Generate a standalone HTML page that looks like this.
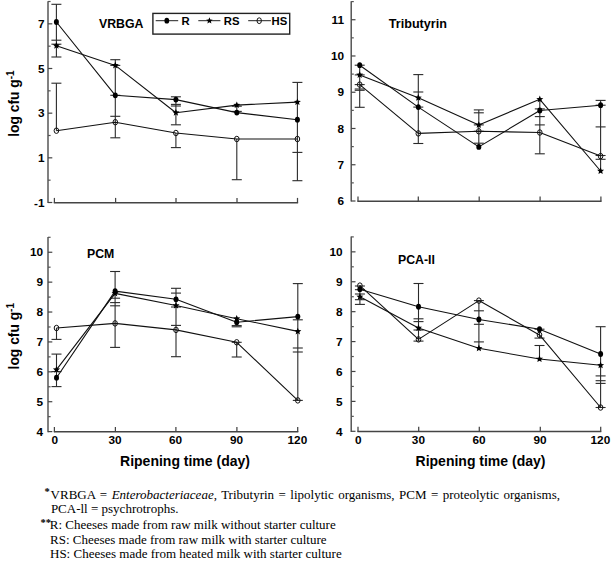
<!DOCTYPE html>
<html><head><meta charset="utf-8"><title>Figure</title>
<style>
html,body{margin:0;padding:0;background:#fff;}
body{width:615px;height:562px;overflow:hidden;}
svg{display:block;}
</style></head>
<body>
<svg width="615" height="562" viewBox="0 0 615 562">
<rect width="615" height="562" fill="#fff"/>
<line x1="48.00" y1="1.20" x2="48.00" y2="203.10" stroke="#444" stroke-width="1.35"/>
<line x1="48.00" y1="202.50" x2="52.30" y2="202.50" stroke="#444" stroke-width="1.20"/>
<line x1="48.00" y1="180.17" x2="50.60" y2="180.17" stroke="#555" stroke-width="1.20"/>
<line x1="48.00" y1="157.83" x2="52.30" y2="157.83" stroke="#444" stroke-width="1.20"/>
<line x1="48.00" y1="135.50" x2="50.60" y2="135.50" stroke="#555" stroke-width="1.20"/>
<line x1="48.00" y1="113.17" x2="52.30" y2="113.17" stroke="#444" stroke-width="1.20"/>
<line x1="48.00" y1="90.83" x2="50.60" y2="90.83" stroke="#555" stroke-width="1.20"/>
<line x1="48.00" y1="68.50" x2="52.30" y2="68.50" stroke="#444" stroke-width="1.20"/>
<line x1="48.00" y1="46.17" x2="50.60" y2="46.17" stroke="#555" stroke-width="1.20"/>
<line x1="48.00" y1="23.83" x2="52.30" y2="23.83" stroke="#444" stroke-width="1.20"/>
<line x1="48.00" y1="1.50" x2="50.60" y2="1.50" stroke="#555" stroke-width="1.20"/>
<text x="44.60" y="206.70" font-family='"Liberation Sans", sans-serif' font-size="11.80" font-weight="bold" text-anchor="end" >-1</text>
<text x="44.60" y="162.03" font-family='"Liberation Sans", sans-serif' font-size="11.80" font-weight="bold" text-anchor="end" >1</text>
<text x="44.60" y="117.37" font-family='"Liberation Sans", sans-serif' font-size="11.80" font-weight="bold" text-anchor="end" >3</text>
<text x="44.60" y="72.70" font-family='"Liberation Sans", sans-serif' font-size="11.80" font-weight="bold" text-anchor="end" >5</text>
<text x="44.60" y="28.03" font-family='"Liberation Sans", sans-serif' font-size="11.80" font-weight="bold" text-anchor="end" >7</text>
<line x1="53.80" y1="202.70" x2="298.10" y2="202.70" stroke="#444" stroke-width="1.50"/>
<line x1="54.40" y1="203.00" x2="54.40" y2="197.90" stroke="#444" stroke-width="1.25"/>
<line x1="115.60" y1="203.00" x2="115.60" y2="197.90" stroke="#444" stroke-width="1.25"/>
<line x1="176.00" y1="203.00" x2="176.00" y2="197.90" stroke="#444" stroke-width="1.25"/>
<line x1="237.00" y1="203.00" x2="237.00" y2="197.90" stroke="#444" stroke-width="1.25"/>
<line x1="297.50" y1="203.00" x2="297.50" y2="197.90" stroke="#444" stroke-width="1.25"/>
<text x="99.00" y="28.30" font-family='"Liberation Sans", sans-serif' font-size="12.30" font-weight="bold" text-anchor="start" >VRBGA</text>
<line x1="351.20" y1="1.30" x2="351.20" y2="201.60" stroke="#444" stroke-width="1.35"/>
<line x1="351.20" y1="201.00" x2="355.50" y2="201.00" stroke="#444" stroke-width="1.20"/>
<line x1="351.20" y1="182.87" x2="353.80" y2="182.87" stroke="#555" stroke-width="1.20"/>
<line x1="351.20" y1="164.75" x2="355.50" y2="164.75" stroke="#444" stroke-width="1.20"/>
<line x1="351.20" y1="146.62" x2="353.80" y2="146.62" stroke="#555" stroke-width="1.20"/>
<line x1="351.20" y1="128.49" x2="355.50" y2="128.49" stroke="#444" stroke-width="1.20"/>
<line x1="351.20" y1="110.36" x2="353.80" y2="110.36" stroke="#555" stroke-width="1.20"/>
<line x1="351.20" y1="92.24" x2="355.50" y2="92.24" stroke="#444" stroke-width="1.20"/>
<line x1="351.20" y1="74.11" x2="353.80" y2="74.11" stroke="#555" stroke-width="1.20"/>
<line x1="351.20" y1="55.98" x2="355.50" y2="55.98" stroke="#444" stroke-width="1.20"/>
<line x1="351.20" y1="37.85" x2="353.80" y2="37.85" stroke="#555" stroke-width="1.20"/>
<line x1="351.20" y1="19.73" x2="355.50" y2="19.73" stroke="#444" stroke-width="1.20"/>
<line x1="351.20" y1="1.60" x2="353.80" y2="1.60" stroke="#555" stroke-width="1.20"/>
<text x="344.00" y="205.20" font-family='"Liberation Sans", sans-serif' font-size="11.80" font-weight="bold" text-anchor="end" >6</text>
<text x="344.00" y="168.95" font-family='"Liberation Sans", sans-serif' font-size="11.80" font-weight="bold" text-anchor="end" >7</text>
<text x="344.00" y="132.69" font-family='"Liberation Sans", sans-serif' font-size="11.80" font-weight="bold" text-anchor="end" >8</text>
<text x="344.00" y="96.44" font-family='"Liberation Sans", sans-serif' font-size="11.80" font-weight="bold" text-anchor="end" >9</text>
<text x="344.00" y="60.18" font-family='"Liberation Sans", sans-serif' font-size="11.80" font-weight="bold" text-anchor="end" >10</text>
<text x="344.00" y="23.93" font-family='"Liberation Sans", sans-serif' font-size="11.80" font-weight="bold" text-anchor="end" >11</text>
<line x1="357.40" y1="201.20" x2="601.50" y2="201.20" stroke="#444" stroke-width="1.50"/>
<line x1="358.00" y1="201.50" x2="358.00" y2="196.40" stroke="#444" stroke-width="1.25"/>
<line x1="418.30" y1="201.50" x2="418.30" y2="196.40" stroke="#444" stroke-width="1.25"/>
<line x1="479.20" y1="201.50" x2="479.20" y2="196.40" stroke="#444" stroke-width="1.25"/>
<line x1="540.10" y1="201.50" x2="540.10" y2="196.40" stroke="#444" stroke-width="1.25"/>
<line x1="600.90" y1="201.50" x2="600.90" y2="196.40" stroke="#444" stroke-width="1.25"/>
<text x="388.80" y="27.80" font-family='"Liberation Sans", sans-serif' font-size="12.60" font-weight="bold" text-anchor="start" >Tributyrin</text>
<line x1="48.00" y1="237.00" x2="48.00" y2="432.20" stroke="#444" stroke-width="1.35"/>
<line x1="48.00" y1="431.60" x2="52.30" y2="431.60" stroke="#444" stroke-width="1.20"/>
<line x1="48.00" y1="416.65" x2="50.60" y2="416.65" stroke="#555" stroke-width="1.20"/>
<line x1="48.00" y1="401.71" x2="52.30" y2="401.71" stroke="#444" stroke-width="1.20"/>
<line x1="48.00" y1="386.76" x2="50.60" y2="386.76" stroke="#555" stroke-width="1.20"/>
<line x1="48.00" y1="371.82" x2="52.30" y2="371.82" stroke="#444" stroke-width="1.20"/>
<line x1="48.00" y1="356.87" x2="50.60" y2="356.87" stroke="#555" stroke-width="1.20"/>
<line x1="48.00" y1="341.92" x2="52.30" y2="341.92" stroke="#444" stroke-width="1.20"/>
<line x1="48.00" y1="326.98" x2="50.60" y2="326.98" stroke="#555" stroke-width="1.20"/>
<line x1="48.00" y1="312.03" x2="52.30" y2="312.03" stroke="#444" stroke-width="1.20"/>
<line x1="48.00" y1="297.08" x2="50.60" y2="297.08" stroke="#555" stroke-width="1.20"/>
<line x1="48.00" y1="282.14" x2="52.30" y2="282.14" stroke="#444" stroke-width="1.20"/>
<line x1="48.00" y1="267.19" x2="50.60" y2="267.19" stroke="#555" stroke-width="1.20"/>
<line x1="48.00" y1="252.25" x2="52.30" y2="252.25" stroke="#444" stroke-width="1.20"/>
<line x1="48.00" y1="237.30" x2="50.60" y2="237.30" stroke="#555" stroke-width="1.20"/>
<text x="43.10" y="435.80" font-family='"Liberation Sans", sans-serif' font-size="11.80" font-weight="bold" text-anchor="end" >4</text>
<text x="43.10" y="405.91" font-family='"Liberation Sans", sans-serif' font-size="11.80" font-weight="bold" text-anchor="end" >5</text>
<text x="43.10" y="376.02" font-family='"Liberation Sans", sans-serif' font-size="11.80" font-weight="bold" text-anchor="end" >6</text>
<text x="43.10" y="346.12" font-family='"Liberation Sans", sans-serif' font-size="11.80" font-weight="bold" text-anchor="end" >7</text>
<text x="43.10" y="316.23" font-family='"Liberation Sans", sans-serif' font-size="11.80" font-weight="bold" text-anchor="end" >8</text>
<text x="43.10" y="286.34" font-family='"Liberation Sans", sans-serif' font-size="11.80" font-weight="bold" text-anchor="end" >9</text>
<text x="43.10" y="256.45" font-family='"Liberation Sans", sans-serif' font-size="11.80" font-weight="bold" text-anchor="end" >10</text>
<line x1="53.80" y1="431.80" x2="298.30" y2="431.80" stroke="#444" stroke-width="1.50"/>
<line x1="54.40" y1="432.10" x2="54.40" y2="427.00" stroke="#444" stroke-width="1.25"/>
<text x="54.70" y="444.20" font-family='"Liberation Sans", sans-serif' font-size="11.80" font-weight="bold" text-anchor="middle" >0</text>
<line x1="115.40" y1="432.10" x2="115.40" y2="427.00" stroke="#444" stroke-width="1.25"/>
<text x="115.10" y="444.20" font-family='"Liberation Sans", sans-serif' font-size="11.80" font-weight="bold" text-anchor="middle" >30</text>
<line x1="175.90" y1="432.10" x2="175.90" y2="427.00" stroke="#444" stroke-width="1.25"/>
<text x="175.60" y="444.20" font-family='"Liberation Sans", sans-serif' font-size="11.80" font-weight="bold" text-anchor="middle" >60</text>
<line x1="236.90" y1="432.10" x2="236.90" y2="427.00" stroke="#444" stroke-width="1.25"/>
<text x="236.60" y="444.20" font-family='"Liberation Sans", sans-serif' font-size="11.80" font-weight="bold" text-anchor="middle" >90</text>
<line x1="297.70" y1="432.10" x2="297.70" y2="427.00" stroke="#444" stroke-width="1.25"/>
<text x="297.40" y="444.20" font-family='"Liberation Sans", sans-serif' font-size="11.80" font-weight="bold" text-anchor="middle" >120</text>
<text x="87.00" y="258.00" font-family='"Liberation Sans", sans-serif' font-size="12.30" font-weight="bold" text-anchor="start" >PCM</text>
<line x1="351.20" y1="236.60" x2="351.20" y2="431.90" stroke="#444" stroke-width="1.35"/>
<line x1="351.20" y1="431.30" x2="355.50" y2="431.30" stroke="#444" stroke-width="1.20"/>
<line x1="351.20" y1="416.35" x2="353.80" y2="416.35" stroke="#555" stroke-width="1.20"/>
<line x1="351.20" y1="401.39" x2="355.50" y2="401.39" stroke="#444" stroke-width="1.20"/>
<line x1="351.20" y1="386.44" x2="353.80" y2="386.44" stroke="#555" stroke-width="1.20"/>
<line x1="351.20" y1="371.48" x2="355.50" y2="371.48" stroke="#444" stroke-width="1.20"/>
<line x1="351.20" y1="356.53" x2="353.80" y2="356.53" stroke="#555" stroke-width="1.20"/>
<line x1="351.20" y1="341.58" x2="355.50" y2="341.58" stroke="#444" stroke-width="1.20"/>
<line x1="351.20" y1="326.62" x2="353.80" y2="326.62" stroke="#555" stroke-width="1.20"/>
<line x1="351.20" y1="311.67" x2="355.50" y2="311.67" stroke="#444" stroke-width="1.20"/>
<line x1="351.20" y1="296.72" x2="353.80" y2="296.72" stroke="#555" stroke-width="1.20"/>
<line x1="351.20" y1="281.76" x2="355.50" y2="281.76" stroke="#444" stroke-width="1.20"/>
<line x1="351.20" y1="266.81" x2="353.80" y2="266.81" stroke="#555" stroke-width="1.20"/>
<line x1="351.20" y1="251.85" x2="355.50" y2="251.85" stroke="#444" stroke-width="1.20"/>
<line x1="351.20" y1="236.90" x2="353.80" y2="236.90" stroke="#555" stroke-width="1.20"/>
<text x="342.50" y="435.50" font-family='"Liberation Sans", sans-serif' font-size="11.80" font-weight="bold" text-anchor="end" >4</text>
<text x="342.50" y="405.59" font-family='"Liberation Sans", sans-serif' font-size="11.80" font-weight="bold" text-anchor="end" >5</text>
<text x="342.50" y="375.68" font-family='"Liberation Sans", sans-serif' font-size="11.80" font-weight="bold" text-anchor="end" >6</text>
<text x="342.50" y="345.78" font-family='"Liberation Sans", sans-serif' font-size="11.80" font-weight="bold" text-anchor="end" >7</text>
<text x="342.50" y="315.87" font-family='"Liberation Sans", sans-serif' font-size="11.80" font-weight="bold" text-anchor="end" >8</text>
<text x="342.50" y="285.96" font-family='"Liberation Sans", sans-serif' font-size="11.80" font-weight="bold" text-anchor="end" >9</text>
<text x="342.50" y="256.05" font-family='"Liberation Sans", sans-serif' font-size="11.80" font-weight="bold" text-anchor="end" >10</text>
<line x1="357.40" y1="431.50" x2="601.30" y2="431.50" stroke="#444" stroke-width="1.50"/>
<line x1="358.00" y1="431.80" x2="358.00" y2="426.70" stroke="#444" stroke-width="1.25"/>
<text x="358.30" y="444.20" font-family='"Liberation Sans", sans-serif' font-size="11.80" font-weight="bold" text-anchor="middle" >0</text>
<line x1="418.70" y1="431.80" x2="418.70" y2="426.70" stroke="#444" stroke-width="1.25"/>
<text x="418.40" y="444.20" font-family='"Liberation Sans", sans-serif' font-size="11.80" font-weight="bold" text-anchor="middle" >30</text>
<line x1="479.30" y1="431.80" x2="479.30" y2="426.70" stroke="#444" stroke-width="1.25"/>
<text x="479.00" y="444.20" font-family='"Liberation Sans", sans-serif' font-size="11.80" font-weight="bold" text-anchor="middle" >60</text>
<line x1="540.30" y1="431.80" x2="540.30" y2="426.70" stroke="#444" stroke-width="1.25"/>
<text x="540.00" y="444.20" font-family='"Liberation Sans", sans-serif' font-size="11.80" font-weight="bold" text-anchor="middle" >90</text>
<line x1="600.70" y1="431.80" x2="600.70" y2="426.70" stroke="#444" stroke-width="1.25"/>
<text x="600.40" y="444.20" font-family='"Liberation Sans", sans-serif' font-size="11.80" font-weight="bold" text-anchor="middle" >120</text>
<text x="398.00" y="263.80" font-family='"Liberation Sans", sans-serif' font-size="12.30" font-weight="bold" text-anchor="start" >PCA-II</text>
<line x1="56.40" y1="4.30" x2="56.40" y2="57.00" stroke="#2a2a2a" stroke-width="1.10"/>
<line x1="51.40" y1="4.30" x2="61.40" y2="4.30" stroke="#2a2a2a" stroke-width="1.10"/>
<line x1="51.40" y1="40.20" x2="61.40" y2="40.20" stroke="#2a2a2a" stroke-width="1.10"/>
<line x1="51.40" y1="44.20" x2="61.40" y2="44.20" stroke="#2a2a2a" stroke-width="1.10"/>
<line x1="51.40" y1="57.00" x2="61.40" y2="57.00" stroke="#2a2a2a" stroke-width="1.10"/>
<line x1="56.40" y1="83.20" x2="56.40" y2="130.70" stroke="#2a2a2a" stroke-width="1.10"/>
<line x1="51.40" y1="83.20" x2="61.40" y2="83.20" stroke="#2a2a2a" stroke-width="1.10"/>
<line x1="115.30" y1="59.70" x2="115.30" y2="137.80" stroke="#2a2a2a" stroke-width="1.10"/>
<line x1="110.30" y1="59.70" x2="120.30" y2="59.70" stroke="#2a2a2a" stroke-width="1.10"/>
<line x1="110.30" y1="65.40" x2="120.30" y2="65.40" stroke="#2a2a2a" stroke-width="1.10"/>
<line x1="110.30" y1="95.30" x2="120.30" y2="95.30" stroke="#2a2a2a" stroke-width="1.10"/>
<line x1="110.30" y1="116.30" x2="120.30" y2="116.30" stroke="#2a2a2a" stroke-width="1.10"/>
<line x1="110.30" y1="137.80" x2="120.30" y2="137.80" stroke="#2a2a2a" stroke-width="1.10"/>
<line x1="175.90" y1="96.80" x2="175.90" y2="124.80" stroke="#2a2a2a" stroke-width="1.10"/>
<line x1="170.90" y1="96.80" x2="180.90" y2="96.80" stroke="#2a2a2a" stroke-width="1.10"/>
<line x1="170.90" y1="104.40" x2="180.90" y2="104.40" stroke="#2a2a2a" stroke-width="1.10"/>
<line x1="170.90" y1="106.00" x2="180.90" y2="106.00" stroke="#2a2a2a" stroke-width="1.10"/>
<line x1="170.90" y1="124.80" x2="180.90" y2="124.80" stroke="#2a2a2a" stroke-width="1.10"/>
<line x1="175.90" y1="133.00" x2="175.90" y2="147.60" stroke="#2a2a2a" stroke-width="1.10"/>
<line x1="170.90" y1="147.60" x2="180.90" y2="147.60" stroke="#2a2a2a" stroke-width="1.10"/>
<line x1="236.80" y1="105.10" x2="236.80" y2="112.60" stroke="#2a2a2a" stroke-width="1.10"/>
<line x1="231.80" y1="106.20" x2="241.80" y2="106.20" stroke="#2a2a2a" stroke-width="1.10"/>
<line x1="231.80" y1="111.40" x2="241.80" y2="111.40" stroke="#2a2a2a" stroke-width="1.10"/>
<line x1="236.80" y1="139.00" x2="236.80" y2="179.70" stroke="#2a2a2a" stroke-width="1.10"/>
<line x1="231.80" y1="179.70" x2="241.80" y2="179.70" stroke="#2a2a2a" stroke-width="1.10"/>
<line x1="297.40" y1="82.40" x2="297.40" y2="180.70" stroke="#2a2a2a" stroke-width="1.10"/>
<line x1="292.40" y1="82.40" x2="302.40" y2="82.40" stroke="#2a2a2a" stroke-width="1.10"/>
<line x1="292.40" y1="152.40" x2="302.40" y2="152.40" stroke="#2a2a2a" stroke-width="1.10"/>
<line x1="292.40" y1="180.70" x2="302.40" y2="180.70" stroke="#2a2a2a" stroke-width="1.10"/>
<polyline points="56.40,130.70 115.30,122.20 175.90,133.00 236.80,139.00 297.40,139.00" fill="none" stroke="#111" stroke-width="1.10" stroke-linejoin="round"/>
<polyline points="56.40,45.70 115.30,65.40 175.90,112.70 236.80,105.10 297.40,102.10" fill="none" stroke="#111" stroke-width="1.10" stroke-linejoin="round"/>
<polyline points="56.40,22.00 115.30,95.30 175.90,99.60 236.80,112.60 297.40,119.70" fill="none" stroke="#111" stroke-width="1.10" stroke-linejoin="round"/>
<ellipse cx="56.40" cy="130.70" rx="2.30" ry="2.75" fill="none" stroke="#111" stroke-width="1"/>
<ellipse cx="115.30" cy="122.20" rx="2.30" ry="2.75" fill="none" stroke="#111" stroke-width="1"/>
<ellipse cx="175.90" cy="133.00" rx="2.30" ry="2.75" fill="none" stroke="#111" stroke-width="1"/>
<ellipse cx="236.80" cy="139.00" rx="2.30" ry="2.75" fill="none" stroke="#111" stroke-width="1"/>
<ellipse cx="297.40" cy="139.00" rx="2.30" ry="2.75" fill="none" stroke="#111" stroke-width="1"/>
<polygon points="56.40,42.00 57.38,44.35 59.92,44.56 57.98,46.21 58.57,48.69 56.40,47.37 54.23,48.69 54.82,46.21 52.88,44.56 55.42,44.35" fill="#000"/>
<polygon points="115.30,61.70 116.28,64.05 118.82,64.26 116.88,65.91 117.47,68.39 115.30,67.07 113.13,68.39 113.72,65.91 111.78,64.26 114.32,64.05" fill="#000"/>
<polygon points="175.90,109.00 176.88,111.35 179.42,111.56 177.48,113.21 178.07,115.69 175.90,114.37 173.73,115.69 174.32,113.21 172.38,111.56 174.92,111.35" fill="#000"/>
<polygon points="236.80,101.40 237.78,103.75 240.32,103.96 238.38,105.61 238.97,108.09 236.80,106.77 234.63,108.09 235.22,105.61 233.28,103.96 235.82,103.75" fill="#000"/>
<polygon points="297.40,98.40 298.38,100.75 300.92,100.96 298.98,102.61 299.57,105.09 297.40,103.77 295.23,105.09 295.82,102.61 293.88,100.96 296.42,100.75" fill="#000"/>
<ellipse cx="56.40" cy="22.00" rx="2.50" ry="2.90" fill="#000"/>
<ellipse cx="115.30" cy="95.30" rx="2.50" ry="2.90" fill="#000"/>
<ellipse cx="175.90" cy="99.60" rx="2.50" ry="2.90" fill="#000"/>
<ellipse cx="236.80" cy="112.60" rx="2.50" ry="2.90" fill="#000"/>
<ellipse cx="297.40" cy="119.70" rx="2.50" ry="2.90" fill="#000"/>
<line x1="359.70" y1="65.20" x2="359.70" y2="107.30" stroke="#2a2a2a" stroke-width="1.10"/>
<line x1="354.70" y1="65.20" x2="364.70" y2="65.20" stroke="#2a2a2a" stroke-width="1.10"/>
<line x1="354.70" y1="74.90" x2="364.70" y2="74.90" stroke="#2a2a2a" stroke-width="1.10"/>
<line x1="354.70" y1="84.60" x2="364.70" y2="84.60" stroke="#2a2a2a" stroke-width="1.10"/>
<line x1="354.70" y1="89.00" x2="364.70" y2="89.00" stroke="#2a2a2a" stroke-width="1.10"/>
<line x1="354.70" y1="90.30" x2="364.70" y2="90.30" stroke="#2a2a2a" stroke-width="1.10"/>
<line x1="354.70" y1="107.30" x2="364.70" y2="107.30" stroke="#2a2a2a" stroke-width="1.10"/>
<line x1="418.30" y1="74.60" x2="418.30" y2="143.50" stroke="#2a2a2a" stroke-width="1.10"/>
<line x1="413.30" y1="74.60" x2="423.30" y2="74.60" stroke="#2a2a2a" stroke-width="1.10"/>
<line x1="413.30" y1="92.00" x2="423.30" y2="92.00" stroke="#2a2a2a" stroke-width="1.10"/>
<line x1="413.30" y1="107.10" x2="423.30" y2="107.10" stroke="#2a2a2a" stroke-width="1.10"/>
<line x1="413.30" y1="143.50" x2="423.30" y2="143.50" stroke="#2a2a2a" stroke-width="1.10"/>
<line x1="478.80" y1="109.90" x2="478.80" y2="146.90" stroke="#2a2a2a" stroke-width="1.10"/>
<line x1="473.80" y1="109.90" x2="483.80" y2="109.90" stroke="#2a2a2a" stroke-width="1.10"/>
<line x1="473.80" y1="112.80" x2="483.80" y2="112.80" stroke="#2a2a2a" stroke-width="1.10"/>
<line x1="473.80" y1="124.90" x2="483.80" y2="124.90" stroke="#2a2a2a" stroke-width="1.10"/>
<line x1="473.80" y1="131.30" x2="483.80" y2="131.30" stroke="#2a2a2a" stroke-width="1.10"/>
<line x1="473.80" y1="143.20" x2="483.80" y2="143.20" stroke="#2a2a2a" stroke-width="1.10"/>
<line x1="539.80" y1="99.30" x2="539.80" y2="153.80" stroke="#2a2a2a" stroke-width="1.10"/>
<line x1="534.80" y1="108.90" x2="544.80" y2="108.90" stroke="#2a2a2a" stroke-width="1.10"/>
<line x1="534.80" y1="116.60" x2="544.80" y2="116.60" stroke="#2a2a2a" stroke-width="1.10"/>
<line x1="534.80" y1="124.90" x2="544.80" y2="124.90" stroke="#2a2a2a" stroke-width="1.10"/>
<line x1="534.80" y1="153.80" x2="544.80" y2="153.80" stroke="#2a2a2a" stroke-width="1.10"/>
<line x1="600.60" y1="100.40" x2="600.60" y2="171.00" stroke="#2a2a2a" stroke-width="1.10"/>
<line x1="595.60" y1="100.40" x2="605.60" y2="100.40" stroke="#2a2a2a" stroke-width="1.10"/>
<line x1="595.60" y1="105.20" x2="605.60" y2="105.20" stroke="#2a2a2a" stroke-width="1.10"/>
<line x1="595.60" y1="126.90" x2="605.60" y2="126.90" stroke="#2a2a2a" stroke-width="1.10"/>
<line x1="595.60" y1="155.50" x2="605.60" y2="155.50" stroke="#2a2a2a" stroke-width="1.10"/>
<line x1="595.60" y1="159.30" x2="605.60" y2="159.30" stroke="#2a2a2a" stroke-width="1.10"/>
<polyline points="359.70,84.60 418.30,133.40 478.80,131.30 539.80,132.50 600.60,156.10" fill="none" stroke="#111" stroke-width="1.10" stroke-linejoin="round"/>
<polyline points="359.70,74.90 418.30,97.80 478.80,124.90 539.80,99.30 600.60,171.00" fill="none" stroke="#111" stroke-width="1.10" stroke-linejoin="round"/>
<polyline points="359.70,65.20 418.30,107.10 478.80,146.90 539.80,110.50 600.60,105.20" fill="none" stroke="#111" stroke-width="1.10" stroke-linejoin="round"/>
<ellipse cx="359.70" cy="84.60" rx="2.30" ry="2.75" fill="none" stroke="#111" stroke-width="1"/>
<ellipse cx="418.30" cy="133.40" rx="2.30" ry="2.75" fill="none" stroke="#111" stroke-width="1"/>
<ellipse cx="478.80" cy="131.30" rx="2.30" ry="2.75" fill="none" stroke="#111" stroke-width="1"/>
<ellipse cx="539.80" cy="132.50" rx="2.30" ry="2.75" fill="none" stroke="#111" stroke-width="1"/>
<ellipse cx="600.60" cy="156.10" rx="2.30" ry="2.75" fill="none" stroke="#111" stroke-width="1"/>
<polygon points="359.70,71.20 360.68,73.55 363.22,73.76 361.28,75.41 361.87,77.89 359.70,76.57 357.53,77.89 358.12,75.41 356.18,73.76 358.72,73.55" fill="#000"/>
<polygon points="418.30,94.10 419.28,96.45 421.82,96.66 419.88,98.31 420.47,100.79 418.30,99.47 416.13,100.79 416.72,98.31 414.78,96.66 417.32,96.45" fill="#000"/>
<polygon points="478.80,121.20 479.78,123.55 482.32,123.76 480.38,125.41 480.97,127.89 478.80,126.57 476.63,127.89 477.22,125.41 475.28,123.76 477.82,123.55" fill="#000"/>
<polygon points="539.80,95.60 540.78,97.95 543.32,98.16 541.38,99.81 541.97,102.29 539.80,100.97 537.63,102.29 538.22,99.81 536.28,98.16 538.82,97.95" fill="#000"/>
<polygon points="600.60,167.30 601.58,169.65 604.12,169.86 602.18,171.51 602.77,173.99 600.60,172.66 598.43,173.99 599.02,171.51 597.08,169.86 599.62,169.65" fill="#000"/>
<ellipse cx="359.70" cy="65.20" rx="2.50" ry="2.90" fill="#000"/>
<ellipse cx="418.30" cy="107.10" rx="2.50" ry="2.90" fill="#000"/>
<ellipse cx="478.80" cy="146.90" rx="2.50" ry="2.90" fill="#000"/>
<ellipse cx="539.80" cy="110.50" rx="2.50" ry="2.90" fill="#000"/>
<ellipse cx="600.60" cy="105.20" rx="2.50" ry="2.90" fill="#000"/>
<line x1="56.50" y1="328.00" x2="56.50" y2="339.40" stroke="#2a2a2a" stroke-width="1.10"/>
<line x1="51.50" y1="339.40" x2="61.50" y2="339.40" stroke="#2a2a2a" stroke-width="1.10"/>
<line x1="56.50" y1="354.10" x2="56.50" y2="386.60" stroke="#2a2a2a" stroke-width="1.10"/>
<line x1="51.50" y1="354.10" x2="61.50" y2="354.10" stroke="#2a2a2a" stroke-width="1.10"/>
<line x1="51.50" y1="371.60" x2="61.50" y2="371.60" stroke="#2a2a2a" stroke-width="1.10"/>
<line x1="51.50" y1="386.60" x2="61.50" y2="386.60" stroke="#2a2a2a" stroke-width="1.10"/>
<line x1="115.10" y1="271.50" x2="115.10" y2="347.40" stroke="#2a2a2a" stroke-width="1.10"/>
<line x1="110.10" y1="271.50" x2="120.10" y2="271.50" stroke="#2a2a2a" stroke-width="1.10"/>
<line x1="110.10" y1="298.20" x2="120.10" y2="298.20" stroke="#2a2a2a" stroke-width="1.10"/>
<line x1="110.10" y1="302.60" x2="120.10" y2="302.60" stroke="#2a2a2a" stroke-width="1.10"/>
<line x1="110.10" y1="305.80" x2="120.10" y2="305.80" stroke="#2a2a2a" stroke-width="1.10"/>
<line x1="110.10" y1="347.40" x2="120.10" y2="347.40" stroke="#2a2a2a" stroke-width="1.10"/>
<line x1="176.00" y1="288.30" x2="176.00" y2="356.70" stroke="#2a2a2a" stroke-width="1.10"/>
<line x1="171.00" y1="288.30" x2="181.00" y2="288.30" stroke="#2a2a2a" stroke-width="1.10"/>
<line x1="171.00" y1="293.10" x2="181.00" y2="293.10" stroke="#2a2a2a" stroke-width="1.10"/>
<line x1="171.00" y1="307.00" x2="181.00" y2="307.00" stroke="#2a2a2a" stroke-width="1.10"/>
<line x1="171.00" y1="325.40" x2="181.00" y2="325.40" stroke="#2a2a2a" stroke-width="1.10"/>
<line x1="171.00" y1="356.70" x2="181.00" y2="356.70" stroke="#2a2a2a" stroke-width="1.10"/>
<line x1="236.70" y1="318.70" x2="236.70" y2="326.20" stroke="#2a2a2a" stroke-width="1.10"/>
<line x1="231.70" y1="325.60" x2="241.70" y2="325.60" stroke="#2a2a2a" stroke-width="1.10"/>
<line x1="231.70" y1="326.80" x2="241.70" y2="326.80" stroke="#2a2a2a" stroke-width="1.10"/>
<line x1="236.70" y1="342.30" x2="236.70" y2="357.00" stroke="#2a2a2a" stroke-width="1.10"/>
<line x1="231.70" y1="342.30" x2="241.70" y2="342.30" stroke="#2a2a2a" stroke-width="1.10"/>
<line x1="231.70" y1="357.00" x2="241.70" y2="357.00" stroke="#2a2a2a" stroke-width="1.10"/>
<line x1="297.80" y1="283.60" x2="297.80" y2="400.40" stroke="#2a2a2a" stroke-width="1.10"/>
<line x1="292.80" y1="283.60" x2="302.80" y2="283.60" stroke="#2a2a2a" stroke-width="1.10"/>
<line x1="292.80" y1="319.80" x2="302.80" y2="319.80" stroke="#2a2a2a" stroke-width="1.10"/>
<line x1="292.80" y1="348.00" x2="302.80" y2="348.00" stroke="#2a2a2a" stroke-width="1.10"/>
<line x1="292.80" y1="352.00" x2="302.80" y2="352.00" stroke="#2a2a2a" stroke-width="1.10"/>
<line x1="292.80" y1="400.40" x2="302.80" y2="400.40" stroke="#2a2a2a" stroke-width="1.10"/>
<polyline points="56.50,328.00 115.10,323.40 176.00,329.90 236.70,342.30 297.80,400.40" fill="none" stroke="#111" stroke-width="1.10" stroke-linejoin="round"/>
<polyline points="56.50,369.70 115.10,293.40 176.00,305.50 236.70,318.70 297.80,331.40" fill="none" stroke="#111" stroke-width="1.10" stroke-linejoin="round"/>
<polyline points="56.50,377.70 115.10,291.10 176.00,299.30 236.70,322.20 297.80,316.60" fill="none" stroke="#111" stroke-width="1.10" stroke-linejoin="round"/>
<ellipse cx="56.50" cy="328.00" rx="2.30" ry="2.75" fill="none" stroke="#111" stroke-width="1"/>
<ellipse cx="115.10" cy="323.40" rx="2.30" ry="2.75" fill="none" stroke="#111" stroke-width="1"/>
<ellipse cx="176.00" cy="329.90" rx="2.30" ry="2.75" fill="none" stroke="#111" stroke-width="1"/>
<ellipse cx="236.70" cy="342.30" rx="2.30" ry="2.75" fill="none" stroke="#111" stroke-width="1"/>
<ellipse cx="297.80" cy="400.40" rx="2.30" ry="2.75" fill="none" stroke="#111" stroke-width="1"/>
<polygon points="56.50,366.00 57.48,368.35 60.02,368.56 58.08,370.21 58.67,372.69 56.50,371.37 54.33,372.69 54.92,370.21 52.98,368.56 55.52,368.35" fill="#000"/>
<polygon points="115.10,289.70 116.08,292.05 118.62,292.26 116.68,293.91 117.27,296.39 115.10,295.06 112.93,296.39 113.52,293.91 111.58,292.26 114.12,292.05" fill="#000"/>
<polygon points="176.00,301.80 176.98,304.15 179.52,304.36 177.58,306.01 178.17,308.49 176.00,307.17 173.83,308.49 174.42,306.01 172.48,304.36 175.02,304.15" fill="#000"/>
<polygon points="236.70,315.00 237.68,317.35 240.22,317.56 238.28,319.21 238.87,321.69 236.70,320.37 234.53,321.69 235.12,319.21 233.18,317.56 235.72,317.35" fill="#000"/>
<polygon points="297.80,327.70 298.78,330.05 301.32,330.26 299.38,331.91 299.97,334.39 297.80,333.06 295.63,334.39 296.22,331.91 294.28,330.26 296.82,330.05" fill="#000"/>
<ellipse cx="56.50" cy="377.70" rx="2.50" ry="2.90" fill="#000"/>
<ellipse cx="115.10" cy="291.10" rx="2.50" ry="2.90" fill="#000"/>
<ellipse cx="176.00" cy="299.30" rx="2.50" ry="2.90" fill="#000"/>
<ellipse cx="236.70" cy="322.20" rx="2.50" ry="2.90" fill="#000"/>
<ellipse cx="297.80" cy="316.60" rx="2.50" ry="2.90" fill="#000"/>
<line x1="359.90" y1="284.90" x2="359.90" y2="304.40" stroke="#2a2a2a" stroke-width="1.10"/>
<line x1="354.90" y1="286.00" x2="364.90" y2="286.00" stroke="#2a2a2a" stroke-width="1.10"/>
<line x1="354.90" y1="289.70" x2="364.90" y2="289.70" stroke="#2a2a2a" stroke-width="1.10"/>
<line x1="354.90" y1="294.00" x2="364.90" y2="294.00" stroke="#2a2a2a" stroke-width="1.10"/>
<line x1="354.90" y1="299.70" x2="364.90" y2="299.70" stroke="#2a2a2a" stroke-width="1.10"/>
<line x1="354.90" y1="304.40" x2="364.90" y2="304.40" stroke="#2a2a2a" stroke-width="1.10"/>
<line x1="418.50" y1="283.50" x2="418.50" y2="341.10" stroke="#2a2a2a" stroke-width="1.10"/>
<line x1="413.50" y1="283.50" x2="423.50" y2="283.50" stroke="#2a2a2a" stroke-width="1.10"/>
<line x1="413.50" y1="318.80" x2="423.50" y2="318.80" stroke="#2a2a2a" stroke-width="1.10"/>
<line x1="413.50" y1="321.60" x2="423.50" y2="321.60" stroke="#2a2a2a" stroke-width="1.10"/>
<line x1="413.50" y1="330.00" x2="423.50" y2="330.00" stroke="#2a2a2a" stroke-width="1.10"/>
<line x1="413.50" y1="341.10" x2="423.50" y2="341.10" stroke="#2a2a2a" stroke-width="1.10"/>
<line x1="478.90" y1="300.60" x2="478.90" y2="348.30" stroke="#2a2a2a" stroke-width="1.10"/>
<line x1="473.90" y1="300.60" x2="483.90" y2="300.60" stroke="#2a2a2a" stroke-width="1.10"/>
<line x1="473.90" y1="310.80" x2="483.90" y2="310.80" stroke="#2a2a2a" stroke-width="1.10"/>
<line x1="473.90" y1="324.30" x2="483.90" y2="324.30" stroke="#2a2a2a" stroke-width="1.10"/>
<line x1="473.90" y1="341.90" x2="483.90" y2="341.90" stroke="#2a2a2a" stroke-width="1.10"/>
<line x1="539.50" y1="329.20" x2="539.50" y2="338.10" stroke="#2a2a2a" stroke-width="1.10"/>
<line x1="534.50" y1="329.20" x2="544.50" y2="329.20" stroke="#2a2a2a" stroke-width="1.10"/>
<line x1="534.50" y1="338.10" x2="544.50" y2="338.10" stroke="#2a2a2a" stroke-width="1.10"/>
<line x1="539.50" y1="345.50" x2="539.50" y2="359.00" stroke="#2a2a2a" stroke-width="1.10"/>
<line x1="534.50" y1="345.50" x2="544.50" y2="345.50" stroke="#2a2a2a" stroke-width="1.10"/>
<line x1="600.60" y1="326.70" x2="600.60" y2="407.50" stroke="#2a2a2a" stroke-width="1.10"/>
<line x1="595.60" y1="326.70" x2="605.60" y2="326.70" stroke="#2a2a2a" stroke-width="1.10"/>
<line x1="595.60" y1="375.90" x2="605.60" y2="375.90" stroke="#2a2a2a" stroke-width="1.10"/>
<line x1="595.60" y1="380.70" x2="605.60" y2="380.70" stroke="#2a2a2a" stroke-width="1.10"/>
<line x1="595.60" y1="383.40" x2="605.60" y2="383.40" stroke="#2a2a2a" stroke-width="1.10"/>
<line x1="595.60" y1="407.50" x2="605.60" y2="407.50" stroke="#2a2a2a" stroke-width="1.10"/>
<polyline points="359.90,285.60 418.50,339.40 478.90,300.60 539.50,334.90 600.60,407.50" fill="none" stroke="#111" stroke-width="1.10" stroke-linejoin="round"/>
<polyline points="359.90,296.80 418.50,328.00 478.90,348.30 539.50,359.00 600.60,365.30" fill="none" stroke="#111" stroke-width="1.10" stroke-linejoin="round"/>
<polyline points="359.90,289.20 418.50,306.70 478.90,319.50 539.50,329.20 600.60,354.00" fill="none" stroke="#111" stroke-width="1.10" stroke-linejoin="round"/>
<ellipse cx="359.90" cy="285.60" rx="2.30" ry="2.75" fill="none" stroke="#111" stroke-width="1"/>
<ellipse cx="418.50" cy="339.40" rx="2.30" ry="2.75" fill="none" stroke="#111" stroke-width="1"/>
<ellipse cx="478.90" cy="300.60" rx="2.30" ry="2.75" fill="none" stroke="#111" stroke-width="1"/>
<ellipse cx="539.50" cy="334.90" rx="2.30" ry="2.75" fill="none" stroke="#111" stroke-width="1"/>
<ellipse cx="600.60" cy="407.50" rx="2.30" ry="2.75" fill="none" stroke="#111" stroke-width="1"/>
<polygon points="359.90,293.10 360.88,295.45 363.42,295.66 361.48,297.31 362.07,299.79 359.90,298.47 357.73,299.79 358.32,297.31 356.38,295.66 358.92,295.45" fill="#000"/>
<polygon points="418.50,324.30 419.48,326.65 422.02,326.86 420.08,328.51 420.67,330.99 418.50,329.67 416.33,330.99 416.92,328.51 414.98,326.86 417.52,326.65" fill="#000"/>
<polygon points="478.90,344.60 479.88,346.95 482.42,347.16 480.48,348.81 481.07,351.29 478.90,349.97 476.73,351.29 477.32,348.81 475.38,347.16 477.92,346.95" fill="#000"/>
<polygon points="539.50,355.30 540.48,357.65 543.02,357.86 541.08,359.51 541.67,361.99 539.50,360.67 537.33,361.99 537.92,359.51 535.98,357.86 538.52,357.65" fill="#000"/>
<polygon points="600.60,361.60 601.58,363.95 604.12,364.16 602.18,365.81 602.77,368.29 600.60,366.97 598.43,368.29 599.02,365.81 597.08,364.16 599.62,363.95" fill="#000"/>
<ellipse cx="359.90" cy="289.20" rx="2.50" ry="2.90" fill="#000"/>
<ellipse cx="418.50" cy="306.70" rx="2.50" ry="2.90" fill="#000"/>
<ellipse cx="478.90" cy="319.50" rx="2.50" ry="2.90" fill="#000"/>
<ellipse cx="539.50" cy="329.20" rx="2.50" ry="2.90" fill="#000"/>
<ellipse cx="600.60" cy="354.00" rx="2.50" ry="2.90" fill="#000"/>
<rect x="152.9" y="13.4" width="136.8" height="20.7" fill="#fff" stroke="#222" stroke-width="1.4"/>
<line x1="155.70" y1="20.70" x2="178.20" y2="20.70" stroke="#222" stroke-width="1.00"/>
<ellipse cx="166.80" cy="20.70" rx="2.40" ry="2.90" fill="#000"/>
<text x="181.60" y="24.90" font-family='"Liberation Sans", sans-serif' font-size="11.30" font-weight="bold" text-anchor="start" >R</text>
<line x1="198.30" y1="20.70" x2="220.40" y2="20.70" stroke="#222" stroke-width="1.00"/>
<polygon points="209.40,17.30 210.30,19.46 212.63,19.65 210.86,21.17 211.40,23.45 209.40,22.23 207.40,23.45 207.94,21.17 206.17,19.65 208.50,19.46" fill="#000"/>
<text x="223.80" y="24.90" font-family='"Liberation Sans", sans-serif' font-size="11.30" font-weight="bold" text-anchor="start" >RS</text>
<line x1="248.20" y1="20.70" x2="270.90" y2="20.70" stroke="#222" stroke-width="1.00"/>
<ellipse cx="259.20" cy="20.70" rx="2.20" ry="2.90" fill="none" stroke="#111" stroke-width="1"/>
<text x="271.60" y="24.90" font-family='"Liberation Sans", sans-serif' font-size="11.30" font-weight="bold" text-anchor="start" >HS</text>
<text transform="translate(19.3,103.60) rotate(-90)" font-family='"Liberation Sans", sans-serif' font-size="13.8" font-weight="bold" text-anchor="middle">log cfu g<tspan dy="-5.8" font-size="10">-1</tspan></text>
<text transform="translate(19.3,336.20) rotate(-90)" font-family='"Liberation Sans", sans-serif' font-size="13.8" font-weight="bold" text-anchor="middle">log cfu g<tspan dy="-5.8" font-size="10">-1</tspan></text>
<text x="185.00" y="466.30" font-family='"Liberation Sans", sans-serif' font-size="14.00" font-weight="bold" text-anchor="middle" >Ripening time (day)</text>
<text x="480.50" y="466.30" font-family='"Liberation Sans", sans-serif' font-size="14.00" font-weight="bold" text-anchor="middle" >Ripening time (day)</text>
<text x="44.60" y="495.30" font-family='"Liberation Serif", serif' font-size="10.50" font-weight="bold" text-anchor="start" >*</text>
<text x="50.60" y="498.60" font-family='"Liberation Serif", serif' font-size="13.00" font-weight="normal" text-anchor="start" word-spacing="1.2">VRBGA = <tspan font-style="italic">Enterobacteriaceae</tspan>, Tributyrin = lipolytic organisms, PCM = proteolytic organisms,</text>
<text x="50.90" y="512.90" font-family='"Liberation Serif", serif' font-size="13.00" font-weight="normal" text-anchor="start" >PCA-ll = psychrotrophs.</text>
<text x="40.60" y="525.60" font-family='"Liberation Serif", serif' font-size="10.50" font-weight="bold" text-anchor="start" >**</text>
<text x="49.80" y="528.60" font-family='"Liberation Serif", serif' font-size="13.00" font-weight="normal" text-anchor="start" >R: Cheeses made from raw milk without starter culture</text>
<text x="50.00" y="543.50" font-family='"Liberation Serif", serif' font-size="13.00" font-weight="normal" text-anchor="start" >RS: Cheeses made from raw milk with starter culture</text>
<text x="50.00" y="558.30" font-family='"Liberation Serif", serif' font-size="13.00" font-weight="normal" text-anchor="start" >HS: Cheeses made from heated milk with starter culture</text>
</svg>
</body></html>
